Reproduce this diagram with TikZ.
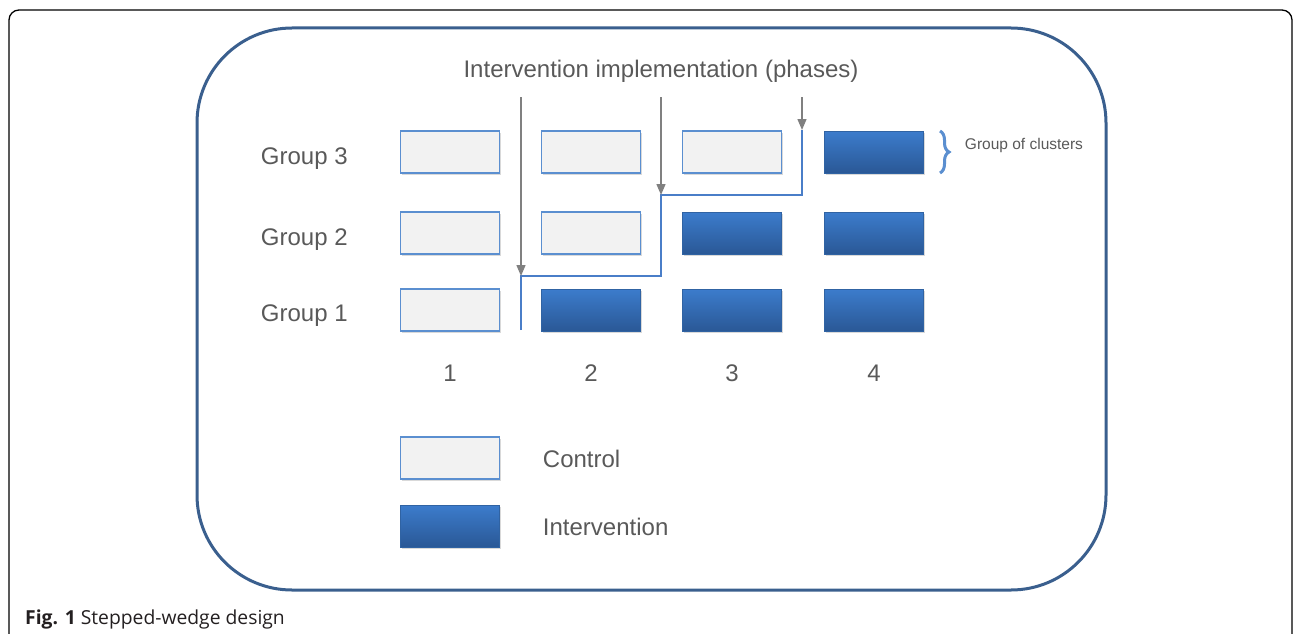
\documentclass[tikz,border=0pt]{standalone}
\usepackage{fontspec}
\setmainfont{Liberation Sans}
\newfontfamily\capfont{Open Sans}
\usetikzlibrary{arrows.meta,shadows,decorations.pathreplacing}

\definecolor{framebl}{RGB}{58,95,142}
\definecolor{edgebl}{RGB}{91,143,208}
\definecolor{stepbl}{RGB}{74,126,200}
\definecolor{topbl}{RGB}{60,124,204}
\definecolor{botbl}{RGB}{42,88,150}
\definecolor{ctrlgr}{RGB}{242,242,242}
\definecolor{txtgr}{RGB}{89,89,89}
\definecolor{arrgr}{RGB}{128,128,128}

\begin{document}
\begin{tikzpicture}[x=1pt,y=1pt,yscale=-1,xscale=1,
	ctrlbox/.style={draw=edgebl,line width=1.2pt,fill=ctrlgr,minimum width=99pt,minimum height=42pt,inner sep=0pt,
		drop shadow={shadow xshift=1pt,shadow yshift=-2pt,opacity=0.3}},
	intbox/.style={draw=topbl!80!black,line width=0.4pt,top color=topbl,bottom color=botbl,minimum width=99pt,minimum height=42pt,inner sep=0pt,
		drop shadow={shadow xshift=1pt,shadow yshift=-2pt,opacity=0.3}},
	lbl/.style={text=txtgr,inner sep=0.75pt,font=\fontsize{24}{28}\selectfont},
	phase/.style={draw=arrgr,line width=1.4pt,-{Triangle[width=9pt,length=11pt]}},
	wedge/.style={draw=stepbl,line width=1.4pt}]
	\useasboundingbox (0,0) rectangle (1293,634);
	
	%Outer frame
	\draw [line width=1.3pt,rounded corners=10] (9,640) -- (9,10) -- (1292,10) -- (1292,640) ;
	%Rounded Rect
	\draw [framebl,line width=3pt,rounded corners=95] (197,28) rectangle (1106,590) ;
	
	% Text Node
	\node (title) [lbl] at (661,71) {Intervention implementation (phases)};
	% Text Node
	\node (grp3) [lbl,anchor=west] at (260,159) {Group 3};
	\node (grp2) [lbl,anchor=west] at (260,240) {Group 2};
	\node (grp1) [lbl,anchor=west] at (260,316) {Group 1};
	
	%Shape: Rectangle
	\node (g3c1) [ctrlbox] at (450,152) {};
	\node (g3c2) [ctrlbox] at (591,152) {};
	\node (g3c3) [ctrlbox] at (732,152) {};
	\node (g3c4) [intbox] at (874,152) {};
	\node (g2c1) [ctrlbox] at (450,233) {};
	\node (g2c2) [ctrlbox] at (591,233) {};
	\node (g2c3) [intbox] at (732,233) {};
	\node (g2c4) [intbox] at (874,233) {};
	\node (g1c1) [ctrlbox] at (450,310) {};
	\node (g1c2) [intbox] at (591,310) {};
	\node (g1c3) [intbox] at (732,310) {};
	\node (g1c4) [intbox] at (874,310) {};
	
	% Text Node
	\node (ph1) [lbl] at (450,373) {1};
	\node (ph2) [lbl] at (591,373) {2};
	\node (ph3) [lbl] at (732,373) {3};
	\node (ph4) [lbl] at (874,373) {4};
	
	%Step line
	\coordinate (s0) at (521,330);
	\coordinate (s1) at (521,276);
	\coordinate (s2) at (661,276);
	\coordinate (s3) at (661,195);
	\coordinate (s4) at (802,195);
	\coordinate (s5) at (802,130);
	\draw [wedge] (s0) -- (s1) -- (s2) -- (s3) -- (s4) -- (s5) ;
	
	%Straight Lines
	\coordinate (a1) at (521,97);
	\coordinate (a2) at (661,97);
	\coordinate (a3) at (802,97);
	\draw [phase] (a1) -- (s1) ;
	\draw [phase] (a2) -- (s3) ;
	\draw [phase] (a3) -- (s5) ;
	
	%Brace
	\coordinate (bt) at (940,131);
	\coordinate (bb) at (940,173);
	\draw [edgebl,line width=3pt,decorate,decoration={brace,amplitude=9pt,aspect=0.5}] (bt) -- (bb) ;
	\node (clus) [text=txtgr,inner sep=0.75pt,anchor=west,font=\fontsize{15.5}{18}\selectfont] at (964,145) {Group of clusters};
	
	%Legend
	\node (legc) [ctrlbox] at (450,458) {};
	\node (legi) [intbox] at (450,526) {};
	\node (legct) [lbl,anchor=west] at (542,459) {Control};
	\node (legit) [lbl,anchor=west] at (542,527) {Intervention};
	
	% Caption
	\node (cap) [inner sep=0pt,anchor=west,font=\capfont\fontsize{19.3}{22}\selectfont,text={rgb,255:red,35;green,31;blue,32}] at (25,619) {\textbf{Fig. 1} Stepped-wedge design};
	
\end{tikzpicture}
\end{document}
